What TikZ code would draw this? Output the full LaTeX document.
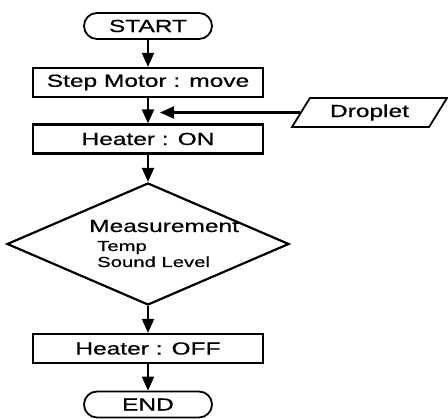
\documentclass[tikz,border=0pt]{standalone}
\usepackage{fontspec}
\setmainfont{Liberation Sans}[FakeStretch=1.4,FakeBold=0.6]
\usetikzlibrary{shapes.geometric,arrows.meta}
\begin{document}
\begin{tikzpicture}[x=1pt,y=-1pt,
  bigtxt/.style={font=\fontsize{17.5}{20}\selectfont},
  smalltxt/.style={font=\fontsize{14.5}{17}\selectfont},
  term/.style={draw, line width=1.8pt, rounded corners=13pt, minimum width=128pt, minimum height=26pt, inner sep=0pt, bigtxt},
  proc/.style={draw, line width=2.2pt, minimum width=230pt, minimum height=29pt, inner sep=0pt, bigtxt},
  decision/.style={draw, diamond, line width=2.2pt, minimum width=282pt, minimum height=122pt, inner sep=0pt},
  io/.style={draw, trapezium, trapezium left angle=54, trapezium right angle=126, trapezium stretches=true, line width=1.8pt, minimum width=155pt, minimum height=29pt, inner sep=0pt, bigtxt},
  arr/.style={line width=2.2pt, -{Triangle[length=14pt,width=12pt]}}
]
\useasboundingbox (0,0) rectangle (448,419);
\node[term] (start) at (148,26) {START};
\node[proc] (step) at (148,82.5) {Step Motor : move};
\node[proc] (heaton) at (148,139) {Heater : ON};
\node[decision] (dec) at (148,244) {};
\node[anchor=base west, inner sep=0pt, bigtxt] (meas) at (89,232) {Measurement};
\node[anchor=base west, inner sep=0pt, smalltxt] (temp) at (97,251) {Temp};
\node[anchor=base west, inner sep=0pt, smalltxt] (sound) at (97,267) {Sound Level};
\node[proc] (heatoff) at (148,348.5) {Heater : OFF};
\node[term] (end) at (148,404.5) {END};
\node[io] (drop) at (369.5,112.5) {Droplet};
\coordinate (dropin) at (160,112.5);
\draw[arr] (start) -- (step);
\draw[arr] (step) -- (heaton);
\draw[arr] (heaton) -- (dec);
\draw[arr] (dec) -- (heatoff);
\draw[arr] (heatoff) -- (end);
\draw[arr] (drop.west) -- (drop.west -| dropin);
\end{tikzpicture}
\end{document}
